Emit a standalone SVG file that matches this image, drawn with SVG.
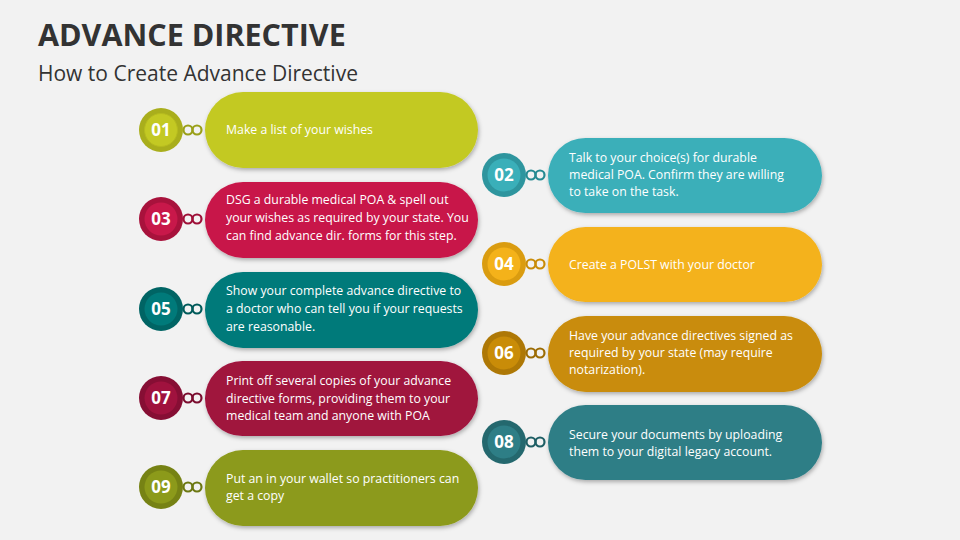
<svg xmlns="http://www.w3.org/2000/svg" width="960" height="540" viewBox="0 0 960 540">
<defs>
<style>
.t{font-family:"Open Sans","Liberation Sans",sans-serif;font-size:12.3px;fill:#fff}
.n{font-family:"Open Sans","Liberation Sans",sans-serif;font-size:17px;font-weight:bold;fill:#fff;text-anchor:middle}
.ring{fill:none;stroke-width:2.2}
</style>
<filter id="sh" x="-10%" y="-10%" width="120%" height="130%"><feDropShadow dx="1" dy="2" stdDeviation="2" flood-opacity="0.3"/></filter>
</defs>
<rect width="960" height="540" fill="#F2F2F2"/>
<text x="38" y="46" font-family="Open Sans,Liberation Sans,sans-serif" font-size="30.5" font-weight="bold" fill="#333">ADVANCE DIRECTIVE</text>
<text x="38" y="81" font-family="Open Sans,Liberation Sans,sans-serif" font-size="21" fill="#333">How to Create Advance Directive</text>

<g id="connectors">
<g stroke="#9AA01A" class="ring"><circle cx="188" cy="130" r="4.5"/><circle cx="197" cy="130" r="4.5"/></g>
<g stroke="#9E1038" class="ring"><circle cx="188" cy="219" r="4.5"/><circle cx="197" cy="219" r="4.5"/></g>
<g stroke="#005A5A" class="ring"><circle cx="188" cy="309" r="4.5"/><circle cx="197" cy="309" r="4.5"/></g>
<g stroke="#7A0C2E" class="ring"><circle cx="188" cy="398" r="4.5"/><circle cx="197" cy="398" r="4.5"/></g>
<g stroke="#6C7812" class="ring"><circle cx="188" cy="487" r="4.5"/><circle cx="197" cy="487" r="4.5"/></g>
<g stroke="#268A92" class="ring"><circle cx="531" cy="175" r="4.5"/><circle cx="540" cy="175" r="4.5"/></g>
<g stroke="#C98C08" class="ring"><circle cx="531" cy="264" r="4.5"/><circle cx="540" cy="264" r="4.5"/></g>
<g stroke="#9C6C04" class="ring"><circle cx="531" cy="353" r="4.5"/><circle cx="540" cy="353" r="4.5"/></g>
<g stroke="#1E5E64" class="ring"><circle cx="531" cy="442" r="4.5"/><circle cx="540" cy="442" r="4.5"/></g>
</g>

<g id="n01"><rect x="205" y="92" width="273" height="76" rx="38" fill="#C3C923" filter="url(#sh)"/><circle cx="161" cy="130" r="22" fill="#A9AE1C"/><circle cx="161" cy="130" r="16.5" fill="#C3C923" stroke="#B6BB1E"/><text class="n" x="161" y="136">01</text><text class="t" x="226" y="134">Make a list of your wishes</text></g>
<g id="n03"><rect x="205" y="182" width="273" height="76" rx="38" fill="#C8184A" filter="url(#sh)"/><circle cx="161" cy="219" r="22" fill="#A8123C"/><circle cx="161" cy="219" r="16.5" fill="#C8184A"/><text class="n" x="161" y="225">03</text><text class="t" x="226" y="204">DSG a durable medical POA &amp; spell out</text><text class="t" x="226" y="222">your wishes as required by your state. You</text><text class="t" x="226" y="240">can find advance dir. forms for this step.</text></g>
<g id="n05"><rect x="205" y="272" width="273" height="76" rx="38" fill="#007A7A" filter="url(#sh)"/><circle cx="161" cy="309" r="22" fill="#006464"/><circle cx="161" cy="309" r="16.5" fill="#007A7A"/><text class="n" x="161" y="315">05</text><text class="t" x="226" y="295">Show your complete advance directive to</text><text class="t" x="226" y="313">a doctor who can tell you if your requests</text><text class="t" x="226" y="331">are reasonable.</text></g>
<g id="n07"><rect x="205" y="361" width="273" height="75" rx="37.5" fill="#A0123E" filter="url(#sh)"/><circle cx="161" cy="398" r="22" fill="#860E34"/><circle cx="161" cy="398" r="16.5" fill="#A0123E"/><text class="n" x="161" y="404">07</text><text class="t" x="226" y="385">Print off several copies of your advance</text><text class="t" x="226" y="403">directive forms, providing them to your</text><text class="t" x="226" y="420">medical team and anyone with POA</text></g>
<g id="n09"><rect x="205" y="450" width="273" height="76" rx="38" fill="#8C9A1A" filter="url(#sh)"/><circle cx="161" cy="487" r="22" fill="#768214"/><circle cx="161" cy="487" r="16.5" fill="#8C9A1A"/><text class="n" x="161" y="493">09</text><text class="t" x="226" y="483">Put an in your wallet so practitioners can</text><text class="t" x="226" y="500">get a copy</text></g>

<g id="n02"><rect x="548" y="138" width="274" height="75" rx="37.5" fill="#3AAFB9" filter="url(#sh)"/><circle cx="504" cy="175" r="22" fill="#2E959E"/><circle cx="504" cy="175" r="16.5" fill="#3AAFB9"/><text class="n" x="504" y="181">02</text><text class="t" x="569" y="162">Talk to your choice(s) for durable</text><text class="t" x="569" y="179">medical POA. Confirm they are willing</text><text class="t" x="569" y="196">to take on the task.</text></g>
<g id="n04"><rect x="548" y="227" width="274" height="75" rx="37.5" fill="#F4B21A" filter="url(#sh)"/><circle cx="504" cy="264" r="22" fill="#DA9C10"/><circle cx="504" cy="264" r="16.5" fill="#F4B21A"/><text class="n" x="504" y="270">04</text><text class="t" x="569" y="269">Create a POLST with your doctor</text></g>
<g id="n06"><rect x="548" y="316" width="274" height="76" rx="38" fill="#C98C08" filter="url(#sh)"/><circle cx="504" cy="353" r="22" fill="#AE7806"/><circle cx="504" cy="353" r="16.5" fill="#C98C08"/><text class="n" x="504" y="359">06</text><text class="t" x="569" y="340">Have your advance directives signed as</text><text class="t" x="569" y="357">required by your state (may require</text><text class="t" x="569" y="374">notarization).</text></g>
<g id="n08"><rect x="548" y="405" width="274" height="75" rx="37.5" fill="#2E7E86" filter="url(#sh)"/><circle cx="504" cy="442" r="22" fill="#24686E"/><circle cx="504" cy="442" r="16.5" fill="#2E7E86"/><text class="n" x="504" y="448">08</text><text class="t" x="569" y="439">Secure your documents by uploading</text><text class="t" x="569" y="456">them to your digital legacy account.</text></g>
</svg>
